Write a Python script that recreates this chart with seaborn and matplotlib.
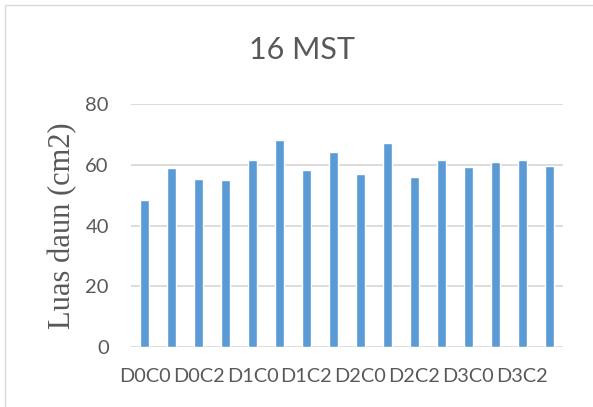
import matplotlib
matplotlib.use("Agg")
import matplotlib.pyplot as plt
import seaborn as sns
import pandas as pd

# Data
perlakuan = ["D0C0", "D0C1", "D0C2", "D0C3",
             "D1C0", "D1C1", "D1C2", "D1C3",
             "D2C0", "D2C1", "D2C2", "D2C3",
             "D3C0", "D3C1", "D3C2", "D3C3"]
luas_daun = [48.6, 58.9, 55.5, 55.0,
             61.5, 68.3, 58.4, 64.4,
             57.0, 67.2, 56.0, 61.7,
             59.2, 61.0, 61.5, 59.7]
y_ticks = [0, 20, 40, 60, 80]

df = pd.DataFrame({"Perlakuan": perlakuan, "Luas": luas_daun})

sns.set_style("white")
plt.rcParams['font.family'] = ['Lato', 'DejaVu Sans']

fig = plt.figure(figsize=(5.93, 4.07), dpi=100)
ax = fig.add_axes([0.221, 0.147, 0.728, 0.597])

sns.barplot(data=df, x="Perlakuan", y="Luas", color="#5b9bd5",
            width=0.33, saturation=1, ax=ax, zorder=3)

ax.set_ylim(0, 80)
ax.set_yticks(y_ticks)
ax.set_xlim(-0.5, len(perlakuan) - 0.5)
ax.yaxis.grid(True, color="#d9d9d9", linewidth=1.3, zorder=0)
ax.set_axisbelow(True)
for s in ax.spines.values():
    s.set_visible(False)

ax.set_xticks(range(0, len(perlakuan), 2))
ax.set_xticklabels(perlakuan[::2])
ax.tick_params(axis="y", length=0, labelsize=14.5, colors="#595959", pad=16)
ax.tick_params(axis="x", length=0, labelsize=14.3, colors="#595959", pad=15)
ax.set_xlabel("")
ax.set_ylabel("Luas daun (cm2)", family="Liberation Serif", fontsize=22,
              color="#595959", labelpad=6)

fig.text(0.509, 0.877, "16 MST", ha="center", va="center", fontsize=22,
         color="#595959")

# outer chart border
border = plt.Rectangle((0.009, -0.01), 1.2, 0.998, transform=fig.transFigure,
                       fill=False, edgecolor="#d9d9d9", linewidth=1)
fig.patches.append(border)

fig.savefig("out.png", dpi=100)
